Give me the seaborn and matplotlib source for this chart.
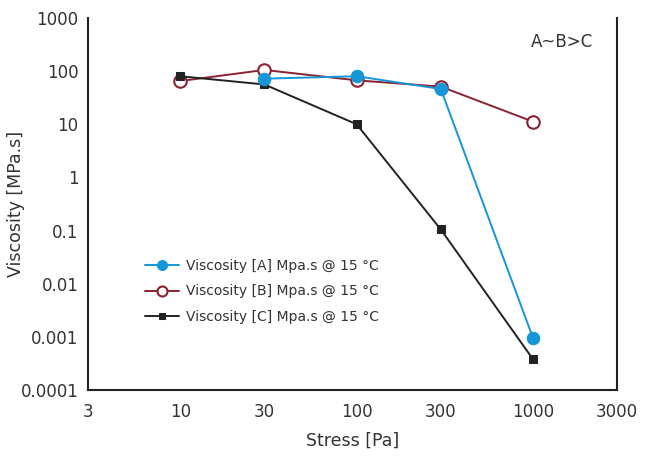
import matplotlib
matplotlib.use("Agg")
import matplotlib.pyplot as plt
import seaborn as sns
from matplotlib.ticker import FixedLocator, FixedFormatter, NullLocator

# data
stress_a = [30, 100, 300, 1000]
visc_a = [72, 80, 46, 0.00095]
stress_b = [10, 30, 100, 300, 1000]
visc_b = [65, 105, 67, 51, 11.2]
stress_c = [10, 30, 100, 300, 1000]
visc_c = [80, 56, 10, 0.105, 0.00038]

labels = ["Viscosity [A] Mpa.s @ 15 \u00b0C",
          "Viscosity [B] Mpa.s @ 15 \u00b0C",
          "Viscosity [C] Mpa.s @ 15 \u00b0C"]

x_ticks = [3, 10, 30, 100, 300, 1000, 3000]
x_tick_labels = ["3", "10", "30", "100", "300", "1000", "3000"]
y_ticks = [0.0001, 0.001, 0.01, 0.1, 1, 10, 100, 1000]
y_tick_labels = ["0.0001", "0.001", "0.01", "0.1", "1", "10", "100", "1000"]


def main():
    sns.set_style("white")
    plt.rcParams["font.family"] = ["DejaVu Sans"]
    text_col = "#333333"

    fig = plt.figure(figsize=(6.47, 4.59), dpi=100)
    ax = fig.add_axes([0.136, 0.150, 0.818, 0.811])

    # A sits on top of B and C in the reference
    sns.lineplot(x=stress_a, y=visc_a, ax=ax, color="#1596d8", lw=1.4,
                 marker="o", markersize=9, markeredgecolor="#1596d8",
                 label=labels[0], zorder=5)
    sns.lineplot(x=stress_b, y=visc_b, ax=ax, color="#8a2232", lw=1.4,
                 marker="o", markersize=9, markerfacecolor="white",
                 markeredgecolor="#8a2232", markeredgewidth=1.5,
                 label=labels[1], zorder=3)
    sns.lineplot(x=stress_c, y=visc_c, ax=ax, color="#222222", lw=1.4,
                 marker="s", markersize=6, markeredgecolor="#222222",
                 label=labels[2], zorder=4)

    ax.set_xscale("log")
    ax.set_yscale("log")
    ax.set_xlim(3, 3000)
    ax.set_ylim(0.0001, 1000)

    ax.xaxis.set_major_locator(FixedLocator(x_ticks))
    ax.xaxis.set_major_formatter(FixedFormatter(x_tick_labels))
    ax.yaxis.set_major_locator(FixedLocator(y_ticks))
    ax.yaxis.set_major_formatter(FixedFormatter(y_tick_labels))
    ax.xaxis.set_minor_locator(NullLocator())
    ax.yaxis.set_minor_locator(NullLocator())

    ax.tick_params(axis="both", direction="out", length=5, width=1.2,
                   colors="#222222", labelsize=12, labelcolor=text_col, pad=4)
    ax.tick_params(axis="y", pad=2)

    for side in ["left", "bottom", "right"]:
        ax.spines[side].set_visible(True)
        ax.spines[side].set_color("#222222")
        ax.spines[side].set_linewidth(1.5)
    ax.spines["top"].set_visible(False)

    ax.set_xlabel("Stress [Pa]", fontsize=12.5, color=text_col, labelpad=8)
    ax.set_ylabel("Viscosity [MPa.s]", fontsize=12.5, color=text_col)
    ax.yaxis.set_label_coords(-0.119, 0.5)

    ax.text(0.896, 0.935, "A~B>C", transform=ax.transAxes, ha="center",
            va="center", fontsize=12, color=text_col)

    leg = ax.legend(loc="upper left", bbox_to_anchor=(0.085, 0.385),
                    frameon=False, fontsize=10, handlelength=2.4,
                    labelspacing=0.8, handletextpad=0.5, markerscale=0.8)
    for t in leg.get_texts():
        t.set_color(text_col)

    fig.savefig("out.png", dpi=100)


if __name__ == "__main__":
    main()
